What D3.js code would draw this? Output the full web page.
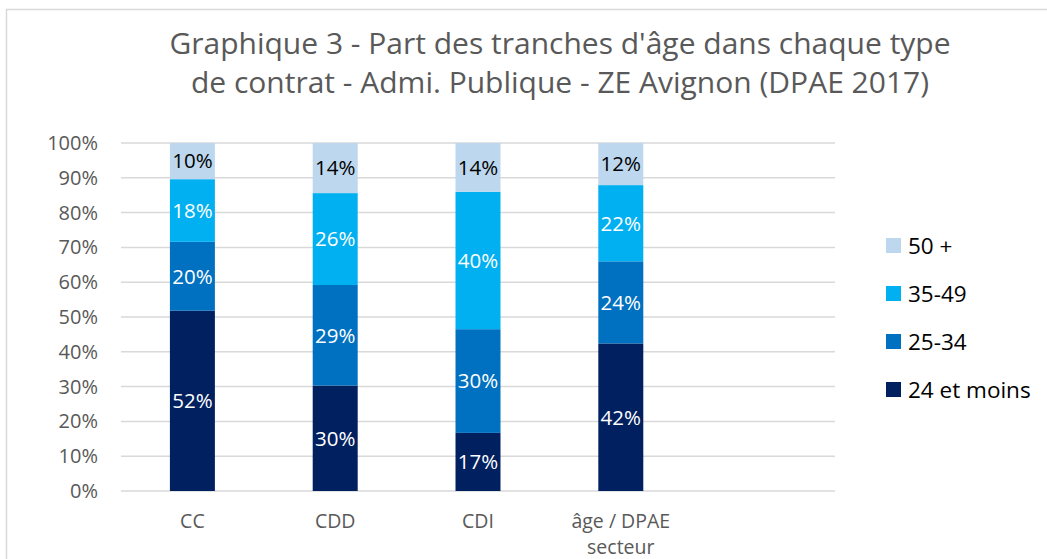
<!DOCTYPE html>
<html>
<head>
<meta charset="utf-8">
<script src="https://cdnjs.cloudflare.com/ajax/libs/d3/7.8.5/d3.min.js"></script>
<style>
  body { margin: 0; background: #fff; }
  svg { display: block; font-family: "Open Sans", "Noto Sans", sans-serif; }
</style>
</head>
<body>
<div id="chart"></div>
<script>
// data (shares in %, bottom to top)
const categories = ["CC", "CDD", "CDI", "âge / DPAE secteur", ""]
const seriesNames = ["24 et moins", "25-34", "35-49", "50 +"]
const s24 = [51.8, 30.3, 16.7, 42.4]
const s25 = [19.8, 28.9, 29.8, 23.6]
const s35 = [18.0, 26.4, 39.5, 21.9]
const s50 = [10.4, 14.4, 14.0, 12.1]
const yTicks = [0, 10, 20, 30, 40, 50, 60, 70, 80, 90, 100]

const colors = ["#002060", "#0070C0", "#00B0F0", "#BDD7EE"]
const labelColors = ["#fff", "#fff", "#fff", "#000"]

const W = 1047, H = 559
const m = { left: 121, right: 835, top: 143, bottom: 491 }

const svg = d3.select("#chart").append("svg").attr("width", W).attr("height", H)

// chart frame (cropped at right/bottom in the reference)
svg.append("rect").attr("x", 6.5).attr("y", 9.5).attr("width", W + 20).attr("height", H + 20)
  .attr("fill", "none").attr("stroke", "#d9d9d9").attr("stroke-width", 1.5)

const rows = categories.slice(0, 4).map((c, i) => ({
  cat: c, "24 et moins": s24[i], "25-34": s25[i], "35-49": s35[i], "50 +": s50[i]
}))
const stacked = d3.stack().keys(seriesNames)(rows)

const x = d3.scaleBand().domain(categories).range([m.left, m.right]).paddingInner(0.685).paddingOuter(0.3425)
const y = d3.scaleLinear().domain([0, 100]).range([m.bottom, m.top])

// gridlines
svg.append("g").selectAll("line").data(yTicks).join("line")
  .attr("x1", m.left).attr("x2", m.right)
  .attr("y1", d => y(d)).attr("y2", d => y(d))
  .attr("stroke", "#d9d9d9").attr("stroke-width", 1.5)

// y axis labels
svg.append("g").selectAll("text").data(yTicks).join("text")
  .attr("x", 98).attr("y", d => y(d)).attr("dy", "0.35em")
  .attr("text-anchor", "end").attr("fill", "#595959").attr("font-size", 20)
  .text(d => d + "%")

// bars
const layer = svg.append("g").selectAll("g").data(stacked).join("g")
  .attr("fill", (d, i) => colors[i])
layer.selectAll("rect").data(d => d).join("rect")
  .attr("x", d => x(d.data.cat)).attr("width", x.bandwidth())
  .attr("y", d => y(d[1])).attr("height", d => y(d[0]) - y(d[1]))

// value labels
svg.append("g").selectAll("g").data(stacked).join("g")
  .attr("fill", (d, i) => labelColors[i])
  .selectAll("text").data(d => d).join("text")
  .attr("x", d => x(d.data.cat) + x.bandwidth() / 2)
  .attr("y", d => (y(d[0]) + y(d[1])) / 2).attr("dy", "0.36em")
  .attr("text-anchor", "middle").attr("font-size", 20.5)
  .text(d => Math.round(d[1] - d[0]) + "%")

// x labels (wrapped like the original)
const xlab = svg.append("g").selectAll("text").data(categories).join("text")
  .attr("x", d => x(d) + x.bandwidth() / 2).attr("y", 528)
  .attr("text-anchor", "middle").attr("fill", "#595959").attr("font-size", 19.5)
xlab.each(function(d) {
  const lines = d === "âge / DPAE secteur" ? ["âge / DPAE", "secteur"] : [d]
  d3.select(this).selectAll("tspan").data(lines).join("tspan")
    .attr("x", x(d) + x.bandwidth() / 2).attr("dy", (l, i) => i ? 26 : 0).text(l => l)
})

// title
svg.append("text").attr("x", 560).attr("text-anchor", "middle")
  .attr("fill", "#595959").attr("font-size", 30)
  .selectAll("tspan").data([
    "Graphique 3 - Part des tranches d'âge dans chaque type",
    "de contrat - Admi. Publique - ZE Avignon (DPAE 2017)"
  ]).join("tspan").attr("x", 560).attr("y", (d, i) => 54 + i * 39).text(d => d)

// legend, top entry is the last series
const legendItems = seriesNames.map((n, i) => ({ n, c: colors[i] })).reverse()
const lg = svg.append("g").selectAll("g").data(legendItems).join("g")
  .attr("transform", (d, i) => `translate(886, ${245.5 + i * 48})`)
lg.append("rect").attr("x", 0).attr("y", -7.5).attr("width", 15).attr("height", 15).attr("fill", d => d.c)
lg.append("text").attr("x", 22).attr("dy", "0.36em").attr("font-size", 22.5).attr("fill", "#000")
  .text(d => d.n)
</script>
</body>
</html>
